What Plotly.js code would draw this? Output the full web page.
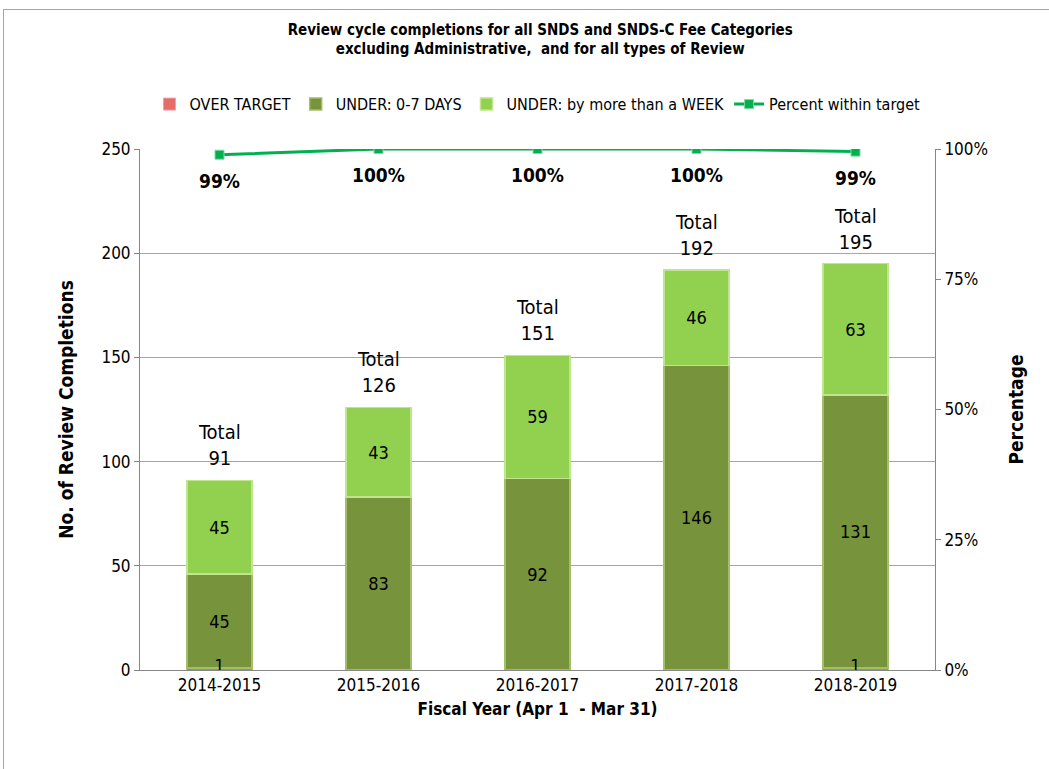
<!DOCTYPE html>
<html>
<head>
<meta charset="utf-8">
<script src="https://cdn.plot.ly/plotly-3.0.1.min.js"></script>
<style>
  body { margin: 0; background: #fff; overflow: hidden; }
  #frame { position: absolute; left: 3px; top: 9px; width: 1100px; height: 800px; border: 1px solid #a6a6a6; }
  #chart { position: absolute; left: 0; top: 0; width: 1049px; height: 769px; }
</style>
</head>
<body>
<div id="frame"></div>
<div id="chart"></div>
<script>
// fiscal years and review counts
let years = ['2014-2015', '2015-2016', '2016-2017', '2017-2018', '2018-2019'];
let overTarget = [1, 0, 0, 0, 1];
let under07 = [45, 83, 92, 146, 131];
let underWeek = [45, 43, 59, 46, 63];
let totals = [91, 126, 151, 192, 195];
let pctWithin = [98.9, 100, 100, 100, 99.5];
let pctLabels = ['99%', '100%', '100%', '100%', '99%'];

let font = "'Liberation Sans Narrow', 'DejaVu Sans Condensed', Arial, sans-serif";

let red = '#e46c6c';
let olive = '#77933c';
let lime = '#92d050';
let lncolor = '#00b050';

var traceOver = {
  x: years, y: overTarget, type: 'bar', name: 'OVER TARGET',
  marker: { color: red, line: { color: '#f2a0a0', width: 1 } },
  hoverinfo: 'none'
};
var trace07 = {
  x: years, y: under07, type: 'bar', name: 'UNDER: 0-7 DAYS',
  text: under07.map(String), textposition: 'inside', insidetextanchor: 'middle',
  textfont: { color: '#000', size: 18, family: font },
  marker: { color: olive, line: { color: '#a3bd6a', width: 1.5 } },
  hoverinfo: 'none'
};
var traceWeek = {
  x: years, y: underWeek, type: 'bar', name: 'UNDER: by more than a WEEK',
  text: underWeek.map(String), textposition: 'inside', insidetextanchor: 'middle',
  textfont: { color: '#000', size: 18, family: font },
  marker: { color: lime, line: { color: '#bfe58f', width: 1.5 } },
  hoverinfo: 'none'
};
// small "1" labels for over-target counts
var overLabels = {
  x: years.filter((d, i) => overTarget[i] > 0),
  y: overTarget.filter(v => v > 0),
  text: overTarget.filter(v => v > 0).map(String),
  mode: 'text', type: 'scatter', textposition: 'middle center',
  textfont: { color: '#000', size: 18, family: font },
  showlegend: false, hoverinfo: 'none'
};
var tracePct = {
  x: years, y: pctWithin, type: 'scatter', mode: 'lines+markers',
  name: 'Percent within target', yaxis: 'y2',
  line: { color: lncolor, width: 3 },
  marker: { symbol: 'square', size: 9, color: lncolor, line: { color: '#7fd8a0', width: 1 } },
  hoverinfo: 'none'
};

var annotations = [];
years.forEach(function (yr, i) {
  annotations.push({
    x: yr, y: totals[i], xref: 'x', yref: 'y', text: 'Total<br>' + totals[i],
    showarrow: false, yanchor: 'bottom', yshift: 8,
    font: { size: 20, color: '#000', family: font }
  });
  annotations.push({
    x: yr, y: pctWithin[i], xref: 'x', yref: 'y2', text: '<b>' + pctLabels[i] + '</b>',
    showarrow: false, yanchor: 'middle', yshift: -26,
    font: { size: 19, color: '#000', family: font }
  });
});

var layout = {
  width: 1049, height: 769,
  margin: { l: 140, r: 114, t: 149, b: 99 },
  paper_bgcolor: 'rgba(0,0,0,0)', plot_bgcolor: 'rgba(0,0,0,0)',
  font: { family: font, color: '#000', size: 17 },
  title: {
    text: '<b>Review cycle completions for all SNDS and SNDS-C Fee Categories<br>excluding Administrative,  and for all types of Review</b>',
    x: 0.515, xanchor: 'center', y: 0.955, yanchor: 'middle',
    font: { size: 15, family: font }
  },
  barmode: 'stack', bargap: 0.59,
  showlegend: true,
  legend: {
    orientation: 'h', x: 0.5, xanchor: 'center', y: 1.086, yanchor: 'middle',
    font: { size: 16, family: font }, traceorder: 'normal', itemwidth: 30
  },
  xaxis: {
    type: 'category', showline: true, linecolor: '#868686', linewidth: 1,
    ticks: '', tickfont: { size: 17 },
    title: { text: '<b>Fiscal Year (Apr 1  - Mar 31)</b>', font: { size: 17 }, standoff: 8 }
  },
  yaxis: {
    range: [0, 250], dtick: 50, showgrid: true, gridcolor: '#a6a6a6',
    showline: true, linecolor: '#868686', ticks: 'outside', ticklen: 5, tickcolor: '#868686',
    tickfont: { size: 17 }, zeroline: false,
    title: { text: '<b>No. of Review Completions</b>', font: { size: 19 }, standoff: 22 }
  },
  yaxis2: {
    overlaying: 'y', side: 'right', range: [0, 100],
    tickvals: [0, 25, 50, 75, 100], ticktext: ['0%', '25%', '50%', '75%', '100%'],
    showgrid: false, showline: true, linecolor: '#868686', ticks: 'outside', ticklen: 5, tickcolor: '#868686',
    tickfont: { size: 17 }, zeroline: false,
    title: { text: '<b>Percentage</b>', font: { size: 19 }, standoff: 22 }
  },
  annotations: annotations
};

Plotly.newPlot('chart', [traceOver, trace07, traceWeek, overLabels, tracePct], layout, { displayModeBar: false, staticPlot: true });
</script>
</body>
</html>
